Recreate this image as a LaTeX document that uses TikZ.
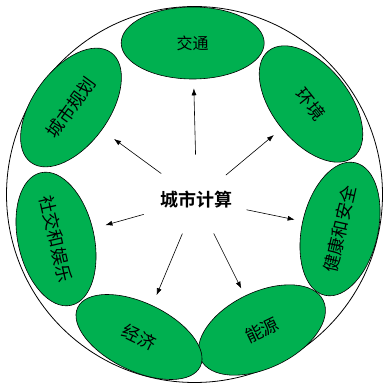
\documentclass[tikz,border=0pt]{standalone}
\usepackage{fontspec}
\setmainfont{Noto Sans CJK SC}[BoldFont={Noto Sans CJK SC Bold}]
\usetikzlibrary{shapes.geometric,arrows.meta}
\definecolor{leafgreen}{RGB}{0,176,80}
\tikzset{
  area/.style={ellipse,draw=black,line width=0.6bp,fill=leafgreen,
    minimum width=136bp,minimum height=76bp,inner sep=0pt,
    font=\fontsize{17.5bp}{19bp}\selectfont},
}

\begin{document}
\begin{tikzpicture}[>={Latex[length=7bp,width=5bp]},line join=bevel,]
%%
\useasboundingbox (0bp,0bp) rectangle (383bp,388bp);
\draw [line width=0.8bp] (194.5bp,193.5bp) circle (188bp);
\node (hub) at (196.7bp,188.5bp) [font=\bfseries\fontsize{18bp}{20bp}\selectfont] {城市计算};
  \node (traffic) at (192.7bp,345bp) [area,minimum width=143bp,minimum height=72bp,font=\fontsize{16bp}{18bp}\selectfont] {交通};
  \node (environ) at (311bp,284bp) [area,rotate=-51.4] {环境};
  \node (health) at (340bp,159bp) [area,rotate=77.1] {健康和安全};
  \node (energy) at (262bp,58bp) [area,rotate=25.7] {能源};
  \node (economy) at (139bp,51bp) [area,rotate=-25.7,minimum height=68bp] {经济};
  \node (social) at (56bp,149bp) [area,rotate=-77.1] {社交和娱乐};
  \node (planning) at (71bp,280.5bp) [area,rotate=54] {城市规划};
  \draw [black,->,line width=0.6bp,shorten <=45bp,shorten >=9bp] (hub.center) -- (traffic);
  \draw [black,->,line width=0.6bp,shorten <=38bp,shorten >=10bp] (hub.center) -- (environ);
  \draw [black,->,line width=0.6bp,shorten <=51bp,shorten >=8bp] (hub.center) -- (health);
  \draw [black,->,line width=0.6bp,shorten <=38bp,shorten >=8bp] (hub.center) -- (energy);
  \draw [black,->,line width=0.6bp,shorten <=37bp,shorten >=11bp] (hub.center) -- (economy);
  \draw [black,->,line width=0.6bp,shorten <=55bp,shorten >=13bp] (hub.center) -- (social);
  \draw [black,->,line width=0.6bp,shorten <=44bp,shorten >=15bp] (hub.center) -- (planning);
%
\end{tikzpicture}
\end{document}
